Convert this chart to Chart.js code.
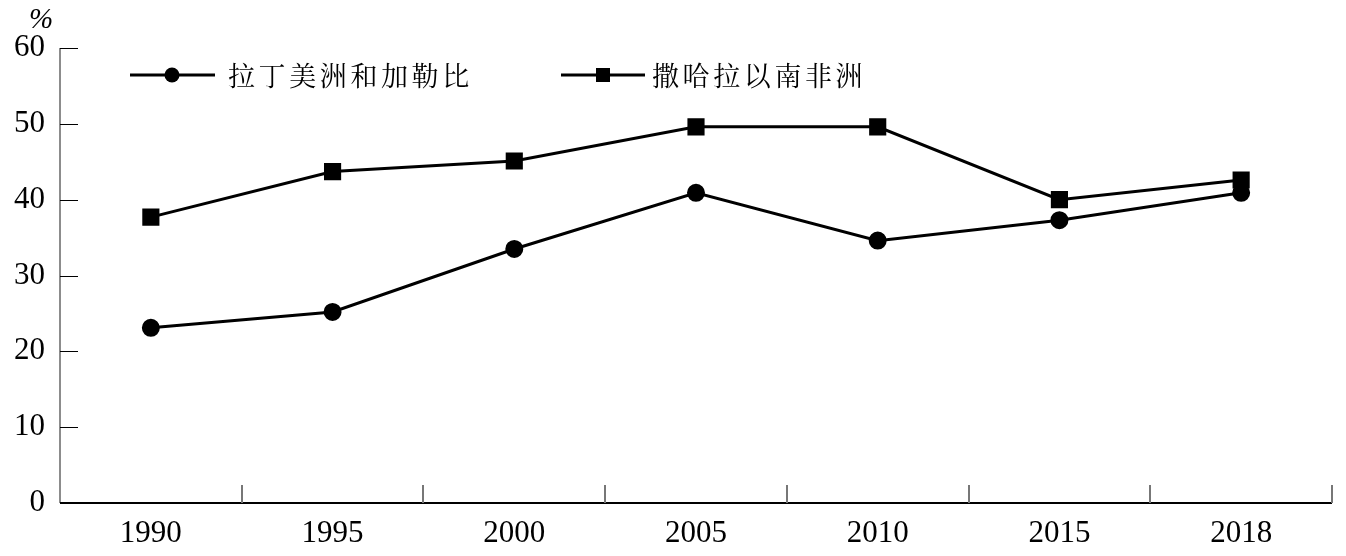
<!DOCTYPE html>
<html>
<head>
<meta charset="utf-8">
<script src="https://cdn.jsdelivr.net/npm/chart.js@4"></script>
<style>
  html, body { margin: 0; padding: 0; background: #fff; }
  #wrap { width: 1346px; height: 556px; position: relative; }
</style>
</head>
<body>
<div id="wrap"><canvas id="myChart" width="1346" height="556"></canvas></div>
<script>
// datos del grafico
const anios = ['1990', '1995', '2000', '2005', '2010', '2015', '2018']
const latam = [23.1, 25.2, 33.5, 40.9, 34.6, 37.3, 40.9]
const africa = [37.7, 43.7, 45.1, 49.6, 49.6, 40.0, 42.6]
const nombres = ['拉丁美洲和加勒比', '撒哈拉以南非洲']
const yTicks = [0, 10, 20, 30, 40, 50, 60]

const serif = '"Liberation Serif", "Times New Roman", serif'
const cjk = '"Noto Serif CJK SC", "Noto Sans CJK SC", serif'

// ejes, marcas hacia adentro, leyenda y simbolo %
const extras = {
    id: 'extras',
    afterDraw(chart) {
        const ctx = chart.ctx
        const a = chart.chartArea
        const x = chart.scales.x
        const y = chart.scales.y
        ctx.save()

        // eje y (gris)
        ctx.strokeStyle = '#666'
        ctx.lineWidth = 1.5
        ctx.beginPath()
        ctx.moveTo(a.left, a.top)
        ctx.lineTo(a.left, a.bottom)
        ctx.stroke()

        ctx.strokeStyle = '#000'
        ctx.lineWidth = 1
        yTicks.forEach(v => {
            const py = Math.round(y.getPixelForValue(v)) + 0.5
            ctx.beginPath()
            ctx.moveTo(a.left, py)
            ctx.lineTo(a.left + 18, py)
            ctx.stroke()
        })

        // eje x (negro)
        ctx.lineWidth = 2
        ctx.beginPath()
        ctx.moveTo(a.left, a.bottom)
        ctx.lineTo(a.right, a.bottom)
        ctx.stroke()

        ctx.strokeStyle = '#777'
        ctx.lineWidth = 2
        for (let i = 1; i <= anios.length; i++) {
            const px = Math.round(x.getPixelForValue(i - 0.5))
            ctx.beginPath()
            ctx.moveTo(px, a.bottom)
            ctx.lineTo(px, a.bottom - 18)
            ctx.stroke()
        }

        // %
        ctx.fillStyle = '#000'
        ctx.font = 'italic 29px ' + serif
        ctx.textAlign = 'center'
        ctx.textBaseline = 'alphabetic'
        ctx.fillText('%', 41, 28)

        // leyenda
        const items = [
            { x0: 130, x1: 215, mx: 172, tx: 228, tipo: 'circle' },
            { x0: 561, x1: 645, mx: 603, tx: 652, tipo: 'rect' },
        ]
        const ly = 75
        items.forEach((it, k) => {
            ctx.strokeStyle = '#000'
            ctx.lineWidth = 3
            ctx.beginPath()
            ctx.moveTo(it.x0, ly)
            ctx.lineTo(it.x1, ly)
            ctx.stroke()
            ctx.fillStyle = '#000'
            if (it.tipo === 'circle') {
                ctx.beginPath()
                ctx.arc(it.mx, ly, 7.5, 0, Math.PI * 2)
                ctx.fill()
            } else {
                ctx.fillRect(it.mx - 7, ly - 7, 14, 14)
            }
            ctx.font = '27px ' + cjk
            ctx.textAlign = 'left'
            ctx.textBaseline = 'middle'
            const chars = [...nombres[k]]
            chars.forEach((c, j) => ctx.fillText(c, it.tx + j * 30.6, ly + 1))
        })

        ctx.restore()
    }
}

const config = {
    type: 'line',
    data: {
        labels: anios,
        datasets: [
            {
                label: nombres[0],
                data: latam,
                borderColor: '#000',
                backgroundColor: '#000',
                borderWidth: 3,
                pointStyle: 'circle',
                pointRadius: 7.5,
                pointHoverRadius: 7.5,
                tension: 0,
            },
            {
                label: nombres[1],
                data: africa,
                borderColor: '#000',
                backgroundColor: '#000',
                borderWidth: 3,
                pointStyle: 'rect',
                pointRadius: 10,
                pointHoverRadius: 10,
                tension: 0,
            },
        ],
    },
    options: {
        responsive: false,
        animation: false,
        layout: { padding: { left: 0, right: 14, top: 48, bottom: 0 } },
        plugins: { legend: { display: false }, tooltip: { enabled: false } },
        scales: {
            x: {
                offset: true,
                grid: { display: false },
                border: { display: false },
                ticks: {
                    color: '#000',
                    font: { family: serif, size: 31 },
                    padding: 4,
                    maxRotation: 0,
                },
                afterFit: (s) => { s.height = 53 },
            },
            y: {
                min: 0,
                max: 60,
                grid: { display: false },
                border: { display: false },
                ticks: {
                    stepSize: 10,
                    color: '#000',
                    font: { family: serif, size: 31 },
                    padding: 7,
                },
                afterFit: (s) => { s.width = 60 },
            },
        },
    },
    plugins: [extras],
}

const ctx = document.getElementById('myChart').getContext('2d')
new Chart(ctx, config)
</script>
</body>
</html>
